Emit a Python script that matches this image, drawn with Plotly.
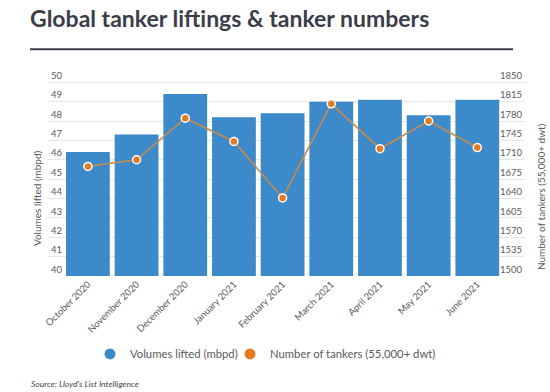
import plotly.graph_objects as go

months = ["October 2020", "November 2020", "December 2020", "January 2021", "February 2021",
          "March 2021", "April 2021", "May 2021", "June 2021"]
volumes = [46.4, 47.3, 49.4, 48.2, 48.4, 49.0, 49.1, 48.3, 49.1]
tankers = [1698, 1710, 1785, 1743, 1641, 1811, 1730, 1780, 1732]

left_ticks = list(range(40, 51))
right_ticks = list(range(1500, 1851, 35))

BLUE = "#3c8ac9"
ORANGE = "#e27b20"
LINE = "#c48a52"
TXT = "#5a5a5a"

W, H = 550, 392
GRID_TOP, GRID_BOT = 82, 276
EXT = 0.12  # extra headroom above top gridline (fraction of span)
unit = (GRID_BOT - GRID_TOP)
L, R = 48, 25
T = GRID_TOP - unit * EXT
B = H - GRID_BOT
pw = W - L - R
ph = H - T - B

def px(x):
    return (x - L) / pw

def py(y):
    return (H - B - y) / ph

fig = go.Figure()
fig.add_trace(go.Bar(x=months, y=volumes, marker=dict(color=BLUE, line=dict(width=0)),
                     showlegend=False, yaxis="y"))
fig.add_trace(go.Scatter(x=months, y=tankers, mode="lines+markers", yaxis="y2",
                         line=dict(color=LINE, width=1.6),
                         marker=dict(color=ORANGE, size=8, line=dict(color="white", width=1.5)),
                         showlegend=False))
fig.add_trace(go.Scatter(x=[None], y=[None], mode="markers", name="Volumes lifted (mbpd)",
                         marker=dict(color=BLUE, size=11), legend="legend"))
fig.add_trace(go.Scatter(x=[None], y=[None], mode="markers", name="Number of tankers (55,000+ dwt)",
                         marker=dict(color=ORANGE, size=11), legend="legend2"))

fig.update_layout(
    width=W, height=H,
    margin=dict(l=L, r=R, t=T, b=B, autoexpand=False),
    paper_bgcolor="white", plot_bgcolor="white",
    font=dict(family="Lato, Open Sans, sans-serif", color=TXT, size=10),
    bargap=0.1,
    xaxis=dict(range=[-0.82, 8.98], tickangle=-45, tickfont=dict(size=9.5, color=TXT),
               showgrid=False, showline=False, ticks="", automargin=False),
    yaxis=dict(range=[40, 50 + 10 * EXT], tickvals=left_ticks, ticklabelposition="inside top",
               gridcolor="#e6e6e6", gridwidth=1, zeroline=False, showline=False,
               tickfont=dict(size=9.5, color=TXT), automargin=False),
    yaxis2=dict(range=[1500, 1850 + 350 * EXT], tickvals=right_ticks, overlaying="y", side="right",
                ticklabelposition="inside top", showgrid=False, zeroline=False,
                tickfont=dict(size=9.5, color=TXT), automargin=False),
    legend=dict(orientation="h", x=px(90), xanchor="left", y=py(354), yanchor="middle",
                font=dict(size=11.3, color=TXT), itemwidth=30, bgcolor="rgba(0,0,0,0)"),
    legend2=dict(orientation="h", x=px(230), xanchor="left", y=py(354), yanchor="middle",
                 font=dict(size=11.3, color=TXT), itemwidth=30, bgcolor="rgba(0,0,0,0)"),
    annotations=[
        dict(text="<b>Global tanker liftings & tanker numbers</b>", xref="paper", yref="paper",
             x=px(28), y=py(18), xanchor="left", yanchor="middle", showarrow=False,
             font=dict(size=23, color="#3b3d48")),
        dict(text="Volumes lifted (mbpd)", xref="paper", yref="paper", x=px(37), y=py(198),
             textangle=-90, xanchor="center", yanchor="middle", showarrow=False,
             font=dict(size=10, color=TXT)),
        dict(text="Number of tankers (55,000+ dwt)", xref="paper", yref="paper", x=px(541), y=py(197),
             textangle=-90, xanchor="center", yanchor="middle", showarrow=False,
             font=dict(size=10, color=TXT)),
        dict(text="<i>Source: Lloyd's List Intelligence</i>", xref="paper", yref="paper",
             x=px(29), y=py(384), xanchor="left", yanchor="middle", showarrow=False,
             font=dict(size=8.5, color="#444")),
    ],
    shapes=[dict(type="line", xref="paper", yref="paper", x0=px(30), x1=px(513),
                 y0=py(49), y1=py(49), line=dict(color="#3b3d48", width=2))],
)

fig.write_html("out.html", config={"displayModeBar": False},
               post_script="document.body.style.margin='0';document.body.style.padding='0';")
